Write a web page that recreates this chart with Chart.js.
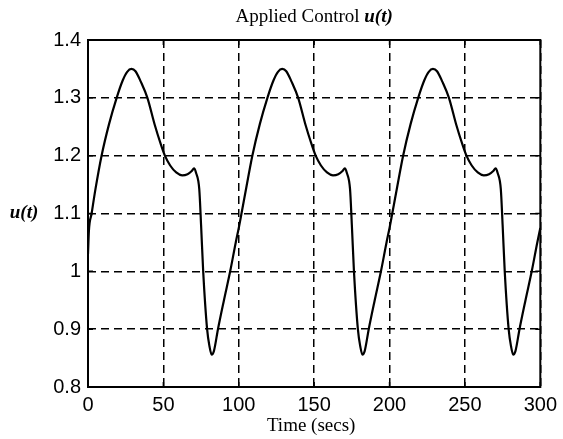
<!DOCTYPE html>
<html>
<head>
<meta charset="utf-8">
<script src="https://cdn.jsdelivr.net/npm/chart.js@4.4.0/dist/chart.umd.min.js"></script>
<style>
  html, body { margin: 0; padding: 0; background: #fff; }
  #wrap { width: 563px; height: 439px; }
</style>
</head>
<body>
<div id="wrap"><canvas id="uChart" width="563" height="439"></canvas></div>
<script>
// Applied control u(t), three cycles of ~100 s
const time1 = [0, 0.6, 2.4, 5, 9, 14, 19, 23, 26, 28.8, 31.5, 35, 39.4, 44.3, 48, 51, 54.5, 58.5, 62.5, 66, 69, 70.3, 71.7, 73.8, 75, 76.4, 79, 80.6, 82, 83.5, 86.2, 90, 94.3, 98];
const u1    = [1.03, 1.07, 1.10, 1.143, 1.20, 1.255, 1.30, 1.33, 1.345, 1.35, 1.346, 1.328, 1.30, 1.253, 1.222, 1.20, 1.183, 1.171, 1.166, 1.168, 1.174, 1.178, 1.17, 1.142, 1.08, 1.0, 0.9, 0.87, 0.856, 0.862, 0.9, 0.948, 1.0, 1.05];

const time2 = [100, 101.8, 105, 109, 114, 119, 123, 126, 128.8, 131.5, 135, 139.4, 144.3, 148, 151, 154.5, 158.5, 162.5, 166, 169, 170.3, 171.7, 173.8, 175, 176.4, 179, 180.6, 182, 183.5, 186.2, 190, 194.3, 198];
const u2    = [1.075, 1.10, 1.145, 1.20, 1.255, 1.30, 1.33, 1.345, 1.35, 1.346, 1.328, 1.30, 1.253, 1.222, 1.20, 1.183, 1.171, 1.166, 1.168, 1.174, 1.178, 1.17, 1.142, 1.08, 1.0, 0.9, 0.87, 0.856, 0.862, 0.9, 0.948, 1.0, 1.05];

const time3 = [200, 201.8, 205, 209, 214, 219, 223, 226, 228.8, 231.5, 235, 239.4, 244.3, 248, 251, 254.5, 258.5, 262.5, 266, 269, 270.3, 271.7, 273.8, 275, 276.4, 279, 280.6, 282, 283.5, 286.2, 290, 294.3, 298, 300];
const u3    = [1.075, 1.10, 1.145, 1.20, 1.255, 1.30, 1.33, 1.345, 1.35, 1.346, 1.328, 1.30, 1.253, 1.222, 1.20, 1.183, 1.171, 1.166, 1.168, 1.174, 1.178, 1.17, 1.142, 1.08, 1.0, 0.9, 0.87, 0.856, 0.862, 0.9, 0.948, 1.0, 1.05, 1.075];

const xTicks = [0, 50, 100, 150, 200, 250, 300];
const yTicks = [0.8, 0.9, 1.0, 1.1, 1.2, 1.3, 1.4];
const yTickLabels = ['0.8', '0.9', '1', '1.1', '1.2', '1.3', '1.4'];

const times = time1.concat(time2, time3);
const values = u1.concat(u2, u3);
const points = times.map((t, i) => ({ x: t, y: values[i] }));

const tickFont = { family: 'Liberation Sans, Arial, sans-serif', size: 20 };
const serif = 'Liberation Serif, Times New Roman, serif';

// box, inner ticks and the serif labels
const matlabFrame = {
  id: 'matlabFrame',
  afterDraw(chart) {
    const { ctx, chartArea: a, scales } = chart;
    ctx.save();
    ctx.strokeStyle = '#000';
    ctx.lineWidth = 2;
    ctx.setLineDash([]);
    ctx.strokeRect(a.left, a.top, a.right - a.left, a.bottom - a.top);

    ctx.lineWidth = 1.5;
    ctx.beginPath();
    xTicks.forEach(v => {
      const px = scales.x.getPixelForValue(v);
      ctx.moveTo(px, a.bottom); ctx.lineTo(px, a.bottom - 5);
      ctx.moveTo(px, a.top); ctx.lineTo(px, a.top + 5);
    });
    yTicks.forEach(v => {
      const py = scales.y.getPixelForValue(v);
      ctx.moveTo(a.left, py); ctx.lineTo(a.left + 5, py);
      ctx.moveTo(a.right, py); ctx.lineTo(a.right - 5, py);
    });
    ctx.stroke();

    ctx.fillStyle = '#000';
    ctx.textBaseline = 'middle';

    // title: "Applied Control " + bold italic u(t)
    const t1 = 'Applied Control ';
    const t2 = 'u(t)';
    ctx.font = '19px ' + serif;
    const w1 = ctx.measureText(t1).width;
    ctx.font = 'italic bold 19px ' + serif;
    const w2 = ctx.measureText(t2).width;
    const cx = (a.left + a.right) / 2;
    let sx = cx - (w1 + w2) / 2;
    ctx.textAlign = 'left';
    ctx.font = '19px ' + serif;
    ctx.fillText(t1, sx, 17);
    ctx.font = 'italic bold 19px ' + serif;
    ctx.fillText(t2, sx + w1, 17);

    // x title
    ctx.textAlign = 'center';
    ctx.font = '19px ' + serif;
    ctx.fillText('Time (secs)', cx - 3, 426);

    // y title, horizontal
    ctx.font = 'italic bold 19px ' + serif;
    ctx.fillText('u(t)', 24, scales.y.getPixelForValue(1.1));
    ctx.restore();
  }
};

const ctx = document.getElementById('uChart').getContext('2d');
const uChart = new Chart(ctx, {
  type: 'line',
  data: {
    datasets: [{
      label: 'u(t)',
      data: points,
      borderColor: '#000',
      borderWidth: 2.2,
      pointRadius: 0,
      fill: false,
      cubicInterpolationMode: 'monotone'
    }]
  },
  options: {
    responsive: false,
    animation: false,
    layout: { padding: { left: 0, right: 21, top: 40, bottom: 0 } },
    plugins: { legend: { display: false }, title: { display: false }, tooltip: { enabled: false } },
    scales: {
      x: {
        type: 'linear',
        min: 0, max: 300,
        afterBuildTicks: s => { s.ticks = xTicks.map(v => ({ value: v })); },
        afterFit: s => { s.height = 52; },
        ticks: { font: tickFont, color: '#000', padding: 6, maxRotation: 0,
                 callback: v => String(v) },
        grid: { color: '#000', lineWidth: 1.5, drawTicks: false },
        border: { display: false, dash: [8, 5] }
      },
      y: {
        type: 'linear',
        min: 0.8, max: 1.4,
        afterBuildTicks: s => { s.ticks = yTicks.map(v => ({ value: v })); },
        afterFit: s => { s.width = 88; },
        ticks: { font: tickFont, color: '#000', padding: 7,
                 callback: (v, i) => yTickLabels[i] },
        grid: { color: '#000', lineWidth: 1.5, drawTicks: false },
        border: { display: false, dash: [8, 5] }
      }
    }
  },
  plugins: [matlabFrame]
});
</script>
</body>
</html>
